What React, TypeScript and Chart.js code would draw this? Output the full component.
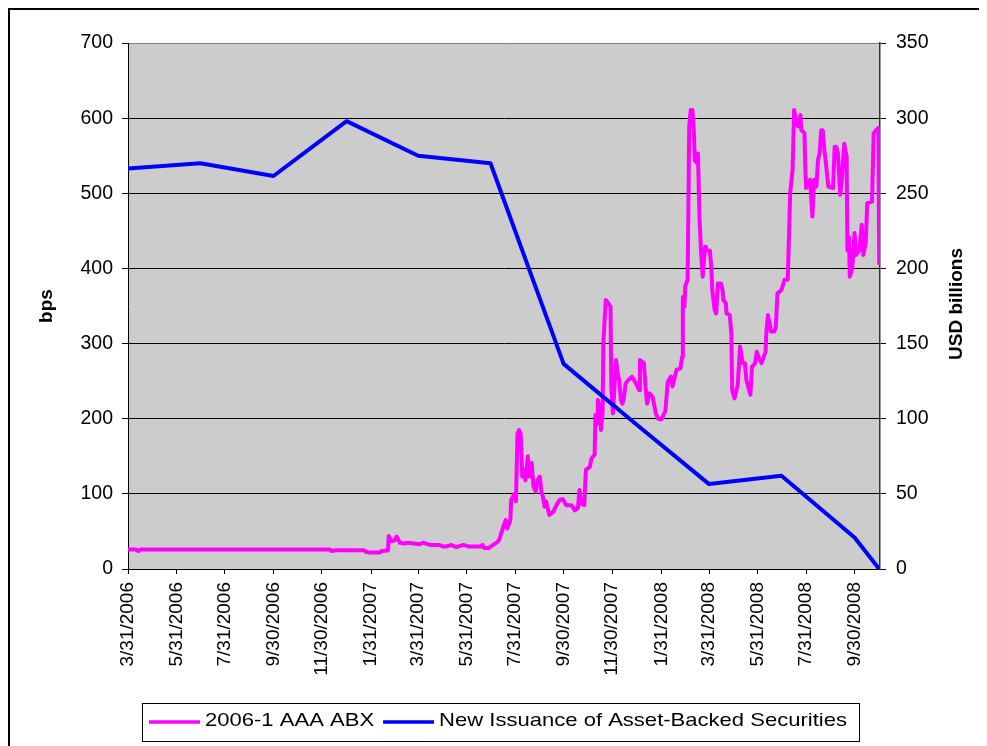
import React, { useEffect, useRef } from 'react';
import { Chart, registerables } from 'chart.js';

Chart.register(...registerables);

// ---------- data ----------
const xTickLabels = [
  '3/31/2006', '5/31/2006', '7/31/2006', '9/30/2006', '11/30/2006',
  '1/31/2007', '3/31/2007', '5/31/2007', '7/31/2007', '9/30/2007', '11/30/2007',
  '1/31/2008', '3/31/2008', '5/31/2008', '7/31/2008', '9/30/2008',
];
const axisStart = '2006-03-31';
const axisEnd = '2008-11-01';

const seriesNames = ['2006-1 AAA ABX', 'New Issuance of Asset-Backed Securities'];
const leftTitle = 'bps';
const rightTitle = 'USD billions';

const abxDates = [
  '2006-03-31', '2006-04-10', '2006-04-13', '2006-04-16', '2006-05-15', '2006-06-30', '2006-08-15',
  '2006-09-29', '2006-11-15', '2006-12-10', '2006-12-12', '2006-12-18', '2007-01-22', '2007-01-24',
  '2007-01-29', '2007-02-11', '2007-02-13', '2007-02-21', '2007-02-22', '2007-02-25', '2007-03-01',
  '2007-03-04', '2007-03-08', '2007-03-14', '2007-03-18', '2007-04-02', '2007-04-06', '2007-04-15',
  '2007-04-27', '2007-05-01', '2007-05-06', '2007-05-12', '2007-05-18', '2007-05-27', '2007-06-02',
  '2007-06-18', '2007-06-20', '2007-06-22', '2007-06-28', '2007-07-02', '2007-07-09', '2007-07-11',
  '2007-07-17', '2007-07-19', '2007-07-21', '2007-07-25', '2007-07-26', '2007-07-30', '2007-08-01',
  '2007-08-03', '2007-08-05', '2007-08-07', '2007-08-09', '2007-08-11', '2007-08-13', '2007-08-16',
  '2007-08-18', '2007-08-21', '2007-08-23', '2007-08-26', '2007-08-28', '2007-08-31', '2007-09-02',
  '2007-09-04', '2007-09-06', '2007-09-08', '2007-09-12', '2007-09-17', '2007-09-21', '2007-09-25',
  '2007-09-29', '2007-10-03', '2007-10-10', '2007-10-14', '2007-10-18', '2007-10-20', '2007-10-22',
  '2007-10-26', '2007-10-28', '2007-11-02', '2007-11-04', '2007-11-08', '2007-11-09', '2007-11-11',
  '2007-11-12', '2007-11-14', '2007-11-16', '2007-11-18', '2007-11-19', '2007-11-22', '2007-11-25',
  '2007-11-28', '2007-11-29', '2007-12-01', '2007-12-03', '2007-12-05', '2007-12-07', '2007-12-09',
  '2007-12-11', '2007-12-13', '2007-12-15', '2007-12-17', '2007-12-20', '2007-12-25', '2007-12-30',
  '2008-01-03', '2008-01-04', '2008-01-09', '2008-01-11', '2008-01-13', '2008-01-16', '2008-01-20',
  '2008-01-24', '2008-01-27', '2008-01-31', '2008-02-05', '2008-02-08', '2008-02-12', '2008-02-14',
  '2008-02-19', '2008-02-24', '2008-02-26', '2008-02-27', '2008-02-29', '2008-03-01', '2008-03-04',
  '2008-03-06', '2008-03-08', '2008-03-10', '2008-03-12', '2008-03-13', '2008-03-16', '2008-03-17',
  '2008-03-19', '2008-03-21', '2008-03-23', '2008-03-26', '2008-03-27', '2008-04-01', '2008-04-03',
  '2008-04-04', '2008-04-07', '2008-04-09', '2008-04-11', '2008-04-15', '2008-04-17', '2008-04-18',
  '2008-04-21', '2008-04-22', '2008-04-26', '2008-04-28', '2008-04-29', '2008-05-02', '2008-05-06',
  '2008-05-09', '2008-05-12', '2008-05-15', '2008-05-17', '2008-05-22', '2008-05-24', '2008-05-28',
  '2008-05-30', '2008-06-02', '2008-06-05', '2008-06-10', '2008-06-11', '2008-06-13', '2008-06-17',
  '2008-06-21', '2008-06-23', '2008-06-25', '2008-06-30', '2008-07-04', '2008-07-08', '2008-07-11',
  '2008-07-14', '2008-07-16', '2008-07-18', '2008-07-21', '2008-07-24', '2008-07-25', '2008-07-29',
  '2008-07-30', '2008-07-31', '2008-08-05', '2008-08-08', '2008-08-10', '2008-08-13', '2008-08-15',
  '2008-08-17', '2008-08-19', '2008-08-21', '2008-08-23', '2008-08-25', '2008-08-28', '2008-09-03',
  '2008-09-05', '2008-09-07', '2008-09-09', '2008-09-12', '2008-09-14', '2008-09-17', '2008-09-20',
  '2008-09-21', '2008-09-23', '2008-09-24', '2008-09-27', '2008-09-30', '2008-10-02', '2008-10-06',
  '2008-10-09', '2008-10-11', '2008-10-14', '2008-10-16', '2008-10-22', '2008-10-24', '2008-10-27',
  '2008-10-30', '2008-10-31', '2008-11-01',
];
const abxValues = [
  26, 26, 24, 26, 26, 26, 26,
  26, 26, 26, 24, 25, 25, 23,
  22, 22, 24, 24.5, 44, 37, 38,
  43, 35, 34, 35, 33, 35, 32,
  32, 30, 30, 32, 29, 32, 30,
  30, 32, 28, 28, 31, 36, 39,
  59, 65, 54, 65, 92, 100, 90,
  180, 185, 180, 123, 132, 118, 150,
  123, 141, 110, 103, 118, 123, 103,
  96, 83, 90, 72, 76, 85, 92,
  93, 85, 85, 78, 81, 105, 87,
  85, 132, 136, 147, 152, 205, 194,
  225, 216, 185, 207, 300, 358, 354,
  349, 243, 207, 243, 278, 260, 251,
  225, 220, 229, 247, 251, 256, 247,
  238, 278, 274, 243, 220, 234, 229,
  207, 200, 199, 210, 249, 256, 243,
  265, 267, 282, 362, 349, 376, 385,
  589, 611, 611, 580, 544, 540, 553,
  465, 420, 389, 429, 424, 424, 398,
  371, 345, 340, 380, 380, 371, 358,
  354, 340, 338, 314, 238, 227, 245,
  296, 274, 274, 251, 232, 269, 274,
  289, 280, 274, 289, 314, 338, 316,
  316, 322, 367, 371, 385, 385, 500,
  531, 611, 598, 589, 604, 584, 580,
  535, 507, 518, 469, 518, 509, 544,
  553, 584, 584, 558, 540, 509, 507,
  562, 562, 553, 498, 518, 566, 549,
  424, 442, 389, 400, 447, 418, 424,
  458, 418, 433, 487, 489, 580, 584,
  587, 407, 415,
];

const issuanceDates = [
  '2006-03-31', '2006-06-30', '2006-09-30', '2006-12-31', '2007-03-31', '2007-06-30',
  '2007-09-30', '2007-12-31', '2008-03-31', '2008-06-30', '2008-09-30', '2008-10-31',
];
const issuanceValues = [266.5, 270, 261.5, 298, 275, 270, 136.5, 96, 56.5, 62, 21, 0];

// ---------- helpers ----------
const MS_DAY = 86400000;
const isoUTC = (s: string) => {
  const [y, m, d] = s.split('-').map(Number);
  return Date.UTC(y, m - 1, d);
};
const mdyUTC = (s: string) => {
  const [m, d, y] = s.split('/').map(Number);
  return Date.UTC(y, m - 1, d);
};
const BASE = isoUTC(axisStart);
const dayIso = (s: string) => Math.round((isoUTC(s) - BASE) / MS_DAY);
const dayMdy = (s: string) => Math.round((mdyUTC(s) - BASE) / MS_DAY);

const FONT = '"Liberation Sans", Arial, Helvetica, sans-serif';

const decorPlugin = {
  id: 'decor',
  beforeDraw(chart: any) {
    const { ctx, chartArea: a } = chart;
    ctx.save();
    ctx.fillStyle = '#CCCCCC';
    ctx.fillRect(a.left, a.top, a.right - a.left, a.bottom - a.top);
    ctx.restore();
  },
  afterDraw(chart: any) {
    const { ctx, chartArea: a, width, height } = chart;
    ctx.save();
    // outer frame (left and top edges visible)
    ctx.fillStyle = '#000';
    ctx.fillRect(0, 0, 2, height);
    ctx.fillRect(0, 0, width, 2);

    // axis titles
    ctx.font = 'bold 19px ' + FONT;
    ctx.fillStyle = '#000';
    ctx.textAlign = 'center';
    ctx.textBaseline = 'alphabetic';
    const mid = (a.top + a.bottom) / 2;
    ctx.save();
    ctx.translate(44, mid);
    ctx.rotate(-Math.PI / 2);
    ctx.fillText(leftTitle, 0, 0);
    ctx.restore();
    ctx.save();
    ctx.translate(954, mid - 2);
    ctx.rotate(-Math.PI / 2);
    ctx.fillText(rightTitle, 0, 0);
    ctx.restore();

    // legend
    const sx = 1.16;
    const boxLeft = 134;
    const boxTop = 695;
    const boxH = 38;
    const cy = 713;
    ctx.font = '19px ' + FONT;
    ctx.textAlign = 'left';
    ctx.textBaseline = 'middle';
    let x = boxLeft + 7;
    chart.data.datasets.forEach((ds: any, i: number) => {
      ctx.strokeStyle = ds.borderColor;
      ctx.lineWidth = 3.5;
      ctx.lineCap = 'butt';
      ctx.beginPath();
      ctx.moveTo(x, cy + 1);
      ctx.lineTo(x + 51, cy + 1);
      ctx.stroke();
      x += 51 + 5;
      const w = ctx.measureText(seriesNames[i]).width * sx;
      ctx.save();
      ctx.translate(x, cy);
      ctx.scale(sx, 1);
      ctx.fillStyle = '#000';
      ctx.fillText(seriesNames[i], 0, 0);
      ctx.restore();
      x += w + 9;
    });
    const boxRight = x - 9 + 12;
    ctx.strokeStyle = '#000';
    ctx.lineWidth = 1;
    ctx.strokeRect(boxLeft + 0.5, boxTop + 0.5, boxRight - boxLeft, boxH);
    ctx.restore();
  },
};

export default function App() {
  const ref = useRef<HTMLCanvasElement>(null);

  useEffect(() => {
    document.documentElement.style.overflow = 'hidden';
    document.body.style.overflow = 'hidden';
    const canvas = ref.current;
    if (!canvas) return;

    const abxData = abxDates.map((d, i) => ({ x: dayIso(d), y: abxValues[i] }));
    const issData = issuanceDates.map((d, i) => ({ x: dayIso(d), y: issuanceValues[i] }));
    const tickDays = xTickLabels.map(dayMdy);

    const chart = new Chart(canvas, {
      type: 'line',
      data: {
        datasets: [
          {
            label: seriesNames[0],
            data: abxData,
            borderColor: '#FF00FF',
            backgroundColor: '#FF00FF',
            borderWidth: 4,
            pointRadius: 0,
            tension: 0,
            borderJoinStyle: 'round',
            borderCapStyle: 'round',
            yAxisID: 'y',
            order: 1,
          },
          {
            label: seriesNames[1],
            data: issData,
            borderColor: '#0000FF',
            backgroundColor: '#0000FF',
            borderWidth: 4,
            pointRadius: 0,
            tension: 0,
            borderJoinStyle: 'round',
            yAxisID: 'y1',
            order: 0,
          },
        ],
      },
      plugins: [decorPlugin],
      options: {
        responsive: false,
        animation: false,
        devicePixelRatio: 1,
        layout: { padding: { left: 0, right: 0, top: 35, bottom: 43 } },
        plugins: {
          legend: { display: false },
          tooltip: { enabled: false },
        },
        scales: {
          x: {
            type: 'linear',
            min: 0,
            max: dayIso(axisEnd),
            afterBuildTicks: (scale: any) => {
              scale.ticks = tickDays.map((v) => ({ value: v }));
            },
            afterFit: (scale: any) => {
              scale.height = 134;
            },
            ticks: {
              autoSkip: false,
              maxRotation: 90,
              minRotation: 90,
              padding: 8,
              color: '#000',
              font: { family: FONT, size: 19 },
              callback: (_v: any, i: number) => xTickLabels[i] ?? '',
            },
            grid: { drawOnChartArea: false, drawTicks: true, tickLength: 5, color: '#000' },
            border: { display: true, color: '#000', width: 1 },
          },
          y: {
            position: 'left',
            min: 0,
            max: 700,
            afterFit: (scale: any) => {
              scale.width = 120;
            },
            ticks: {
              stepSize: 100,
              padding: 9,
              color: '#000',
              font: { family: FONT, size: 19.5 },
            },
            grid: {
              color: (c: any) => (c.tick && c.tick.value === 700 ? '#808080' : '#000'),
              tickColor: '#000',
              lineWidth: 1,
              tickLength: 6,
            },
            border: { display: true, color: '#000', width: 1 },
          },
          y1: {
            position: 'right',
            min: 0,
            max: 350,
            afterFit: (scale: any) => {
              scale.width = 107;
            },
            ticks: {
              stepSize: 50,
              padding: 10,
              color: '#000',
              font: { family: FONT, size: 19.5 },
            },
            grid: { drawOnChartArea: false, tickLength: 6, color: '#000' },
            border: { display: true, color: '#333', width: 1.5 },
          },
        },
      },
    } as any);

    return () => chart.destroy();
  }, []);

  return (
    <canvas
      ref={ref}
      width={979}
      height={738}
      style={{ display: 'block', width: 979, height: 738 }}
    />
  );
}
